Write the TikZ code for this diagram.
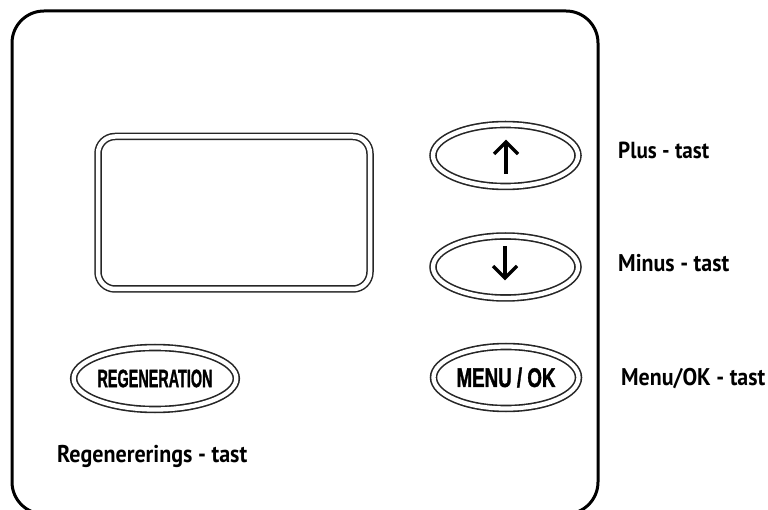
\documentclass[tikz,border=0pt]{standalone}
\usepackage{fontspec}
\setmainfont{PT Sans}
\newfontfamily\btnfont{Liberation Sans}[BoldFeatures={FakeBold=1.6}]
\usetikzlibrary{shapes.geometric,arrows.meta}
\tikzset{
  frame/.style={line width=3pt, rounded corners=32pt},
  screenbox/.style={draw=black!85, line width=1.5pt, double=white, double distance=4.5pt, rounded corners=17pt},
  btn/.style={ellipse, draw=black!85, line width=1.6pt, double=white, double distance=4.3pt, inner sep=0pt, minimum width=145pt, minimum height=62pt},
  lbl/.style={anchor=base west, inner sep=0pt},
  arr/.style={line width=3.2pt, line cap=butt, line join=miter}
}
\begin{document}
\begin{tikzpicture}[x=1pt,y=-1pt]
\useasboundingbox (0,0) rectangle (768,510);
\clip (0,0) rectangle (768,510);
\draw[frame] (12,11) rectangle (598,514);
\draw[screenbox] (98,136.5) rectangle (370,289);
\node[btn] (up) at (505.5,155.5) {};
\node[btn] (down) at (505.5,267) {};
\node[btn] (menu) at (506,377.5) {\resizebox{99pt}{19.5pt}{\btnfont\bfseries MENU / OK}};
\node[btn, minimum width=149pt] (regen) at (155,378.5) {\resizebox{115pt}{17.5pt}{\btnfont\bfseries REGENERATION}};
\coordinate (upS) at (506,174);
\coordinate (upE) at (506,142);
\coordinate (dnS) at (505,246);
\coordinate (dnE) at (505,278);
\draw[arr] (upS) -- (upE);
\draw[arr] ([xshift=-12pt,yshift=-12pt]upE) -- (upE) -- ([xshift=12pt,yshift=-12pt]upE);
\draw[arr] (dnS) -- (dnE);
\draw[arr] ([xshift=-12pt,yshift=12pt]dnE) -- (dnE) -- ([xshift=12pt,yshift=12pt]dnE);
\node[lbl] (lplus) at (618,159) {\scalebox{1}[1.1]{\resizebox{91pt}{!}{\bfseries Plus - tast}}};
\node[lbl] (lminus) at (618,272) {\scalebox{1}[1.1]{\resizebox{111pt}{!}{\bfseries Minus - tast}}};
\node[lbl] (lmenu) at (621,385) {\scalebox{1}[1.1]{\resizebox{144pt}{!}{\bfseries Menu/OK - tast}}};
\node[lbl] (lregen) at (57,462) {\scalebox{1}[1.1]{\resizebox{190pt}{!}{\bfseries Regenererings - tast}}};
\end{tikzpicture}
\end{document}
